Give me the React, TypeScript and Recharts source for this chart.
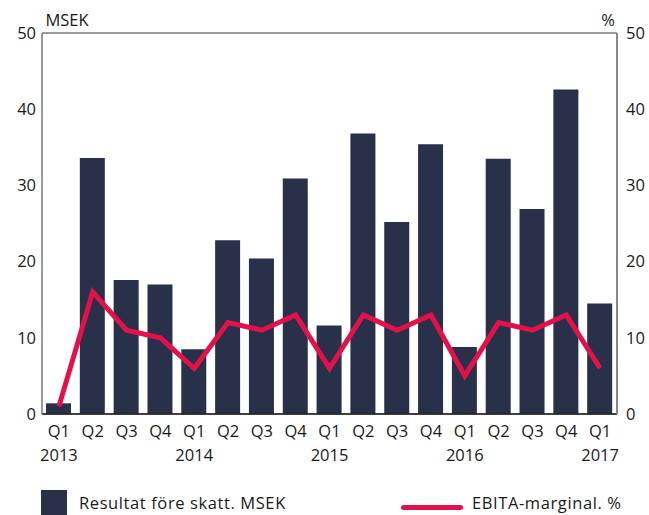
import React from "react";
import {
  ComposedChart,
  Bar,
  Line,
  XAxis,
  YAxis,
  CartesianGrid,
  Legend,
} from "recharts";

const quarters = ["Q1", "Q2", "Q3", "Q4", "Q1", "Q2", "Q3", "Q4", "Q1", "Q2", "Q3", "Q4", "Q1", "Q2", "Q3", "Q4", "Q1"];
const years = ["2013", "", "", "", "2014", "", "", "", "2015", "", "", "", "2016", "", "", "", "2017"];
const resultat = [1.4, 33.6, 17.6, 17.0, 8.5, 22.8, 20.4, 30.9, 11.6, 36.8, 25.2, 35.4, 8.8, 33.5, 26.9, 42.6, 14.5];
const ebita = [1, 16, 11, 10, 6, 12, 11, 13, 6, 13, 11, 13, 5, 12, 11, 13, 6];
const yTicks = [0, 10, 20, 30, 40, 50];

const data = quarters.map((q, i) => ({ q, year: years[i], resultat: resultat[i], ebita: ebita[i] }));

const FONT = "'Open Sans', 'Noto Sans', sans-serif";
const FS = 16.5;
const BAR = "#283149";
const LINE = "#E3104A";
const TEXT = "#1a1a1a";

const XTick = (props: any) => {
  const { x, y, payload } = props;
  const idx = payload.index;
  return (
    <g>
      <text x={x} y={y + 15} textAnchor="middle" fontFamily={FONT} fontSize={FS} fill={TEXT}>
        {payload.value}
      </text>
      {years[idx] ? (
        <text x={x} y={y + 39} textAnchor="middle" fontFamily={FONT} fontSize={FS} fill={TEXT}>
          {years[idx]}
        </text>
      ) : null}
    </g>
  );
};

const LegendContent = () => (
  <div style={{ position: "relative", width: 649, height: 30, fontFamily: FONT, fontSize: FS, color: TEXT }}>
    <div style={{ position: "absolute", left: 41, top: 5, width: 26, height: 25, background: BAR }} />
    <div style={{ position: "absolute", left: 79, top: 8, lineHeight: "20px", whiteSpace: "nowrap", letterSpacing: 0.6 }}>
      Resultat före skatt. MSEK
    </div>
    <div style={{ position: "absolute", left: 401, top: 20, width: 62, height: 5, borderRadius: 3, background: LINE }} />
    <div style={{ position: "absolute", left: 472, top: 8, lineHeight: "20px", whiteSpace: "nowrap", letterSpacing: 0.6 }}>
      EBITA-marginal. %
    </div>
  </div>
);

export default function App() {
  return (
    <div style={{ position: "absolute", left: 0, top: 0, width: 649, height: 515, background: "#fff", overflow: "hidden" }}>
      <ComposedChart
        width={649}
        height={515}
        data={data}
        margin={{ top: 33, right: 0, left: 0, bottom: 0 }}
        barSize={25}
      >
        <CartesianGrid vertical={false} stroke="#3a3a3a" strokeWidth={1} />
        <XAxis
          dataKey="q"
          tick={<XTick />}
          tickLine={false}
          axisLine={{ stroke: "#222", strokeWidth: 1.5 }}
          height={71}
          interval={0}
        />
        <YAxis
          yAxisId="left"
          orientation="left"
          width={42}
          domain={[0, 50]}
          ticks={yTicks}
          tickLine={false}
          tickSize={0}
          tickMargin={6}
          axisLine={{ stroke: "#777", strokeWidth: 1.5 }}
          tick={{ fontFamily: FONT, fontSize: FS, fill: TEXT }}
          label={{ value: "MSEK", position: "top", dx: 46, offset: 7, fontFamily: FONT, fontSize: FS, fill: TEXT }}
        />
        <YAxis
          yAxisId="right"
          orientation="right"
          width={32}
          domain={[0, 50]}
          ticks={yTicks}
          tickLine={false}
          tickSize={0}
          tickMargin={9}
          axisLine={{ stroke: "#888", strokeWidth: 2 }}
          tick={{ fontFamily: FONT, fontSize: FS, fill: TEXT }}
          label={{ value: "%", position: "top", dx: -25, offset: 7, fontFamily: FONT, fontSize: FS, fill: TEXT }}
        />
        <Bar yAxisId="left" dataKey="resultat" name="Resultat före skatt. MSEK" fill={BAR} isAnimationActive={false} />
        <Line
          yAxisId="right"
          dataKey="ebita"
          name="EBITA-marginal. %"
          type="linear"
          stroke={LINE}
          strokeWidth={5}
          dot={false}
          activeDot={false}
          strokeLinejoin="miter"
          isAnimationActive={false}
        />
        <Legend
          verticalAlign="bottom"
          height={30}
          content={<LegendContent />}
          wrapperStyle={{ position: "absolute", left: 0, top: 485, width: 649, height: 30 }}
        />
      </ComposedChart>
    </div>
  );
}
